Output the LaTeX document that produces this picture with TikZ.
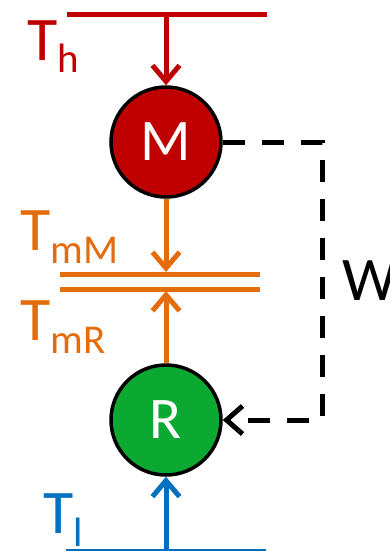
\documentclass[tikz,border=0pt]{standalone}
\usepackage{fontspec}
\setmainfont{Carlito}
\usetikzlibrary{arrows.meta}
\definecolor{cred}{HTML}{C00000}
\definecolor{corange}{HTML}{E46C0A}
\definecolor{cblue}{HTML}{0070C0}
\definecolor{cgreen}{HTML}{0BA832}
\tikzset{
  ball/.style={circle, draw=black, line width=3.5pt, minimum size=110pt, inner sep=0pt,
    text=white, font=\fontsize{59}{59}\selectfont},
  flow/.style={line width=5pt, -{Straight Barb[length=16pt,width=27pt]}},
  bar/.style={line width=5pt},
  lbl/.style={inner sep=0pt, anchor=base west, font=\fontsize{62}{62}\selectfont},
  work/.style={line width=5pt, dash pattern=on 22pt off 17pt, -{Straight Barb[length=16pt,width=28pt]}}
}
\newcommand{\sbs}[1]{\raisebox{-13pt}{\fontsize{41}{41}\selectfont #1}}
\begin{document}
\begin{tikzpicture}[x=1pt,y=-1pt]
\useasboundingbox (0,0) rectangle (390,551);
% nodes
\node[ball, fill=cred] (M) at (166,142) {M};
\node[ball, fill=cgreen] (R) at (166,420) {R};
% top hot line
\coordinate (hl) at (67,15);
\coordinate (hr) at (267,15);
\coordinate (hm) at (166,15);
\draw[bar, cred] (hl) -- (hr);
\draw[flow, cred] (hm) -- (M.north);
\node[lbl, text=cred] (Th) at (27,60) {T\sbs{h}};
% middle double line
\coordinate (m1l) at (60,274);
\coordinate (m1r) at (260,274);
\coordinate (m1m) at (166,272);
\coordinate (m2l) at (60,289);
\coordinate (m2r) at (260,289);
\coordinate (m2m) at (166,291);
\draw[bar, corange] (m1l) -- (m1r);
\draw[bar, corange] (m2l) -- (m2r);
\draw[flow, corange] (M.south) -- (m1m);
\draw[flow, corange] (R.north) -- (m2m);
\node[lbl, text=corange] (TmM) at (20,250) {T\sbs{mM}};
\node[lbl, text=corange] (TmR) at (20,340) {T\sbs{mR}};
% bottom cold line
\coordinate (ll) at (66,549.5);
\coordinate (lr) at (266,549.5);
\coordinate (lm) at (166,551);
\draw[cblue, line width=2pt] (ll) -- (lr);
\draw[flow, cblue] (lm) -- (R.south);
\node[lbl, text=cblue] (Tl) at (43,533) {T\sbs{l}};
% work
\coordinate (wc) at (322,142);
\draw[work] (M.east) -- (wc) |- (R.east);
\node[lbl] (W) at (342,300) {W};
\end{tikzpicture}
\end{document}
